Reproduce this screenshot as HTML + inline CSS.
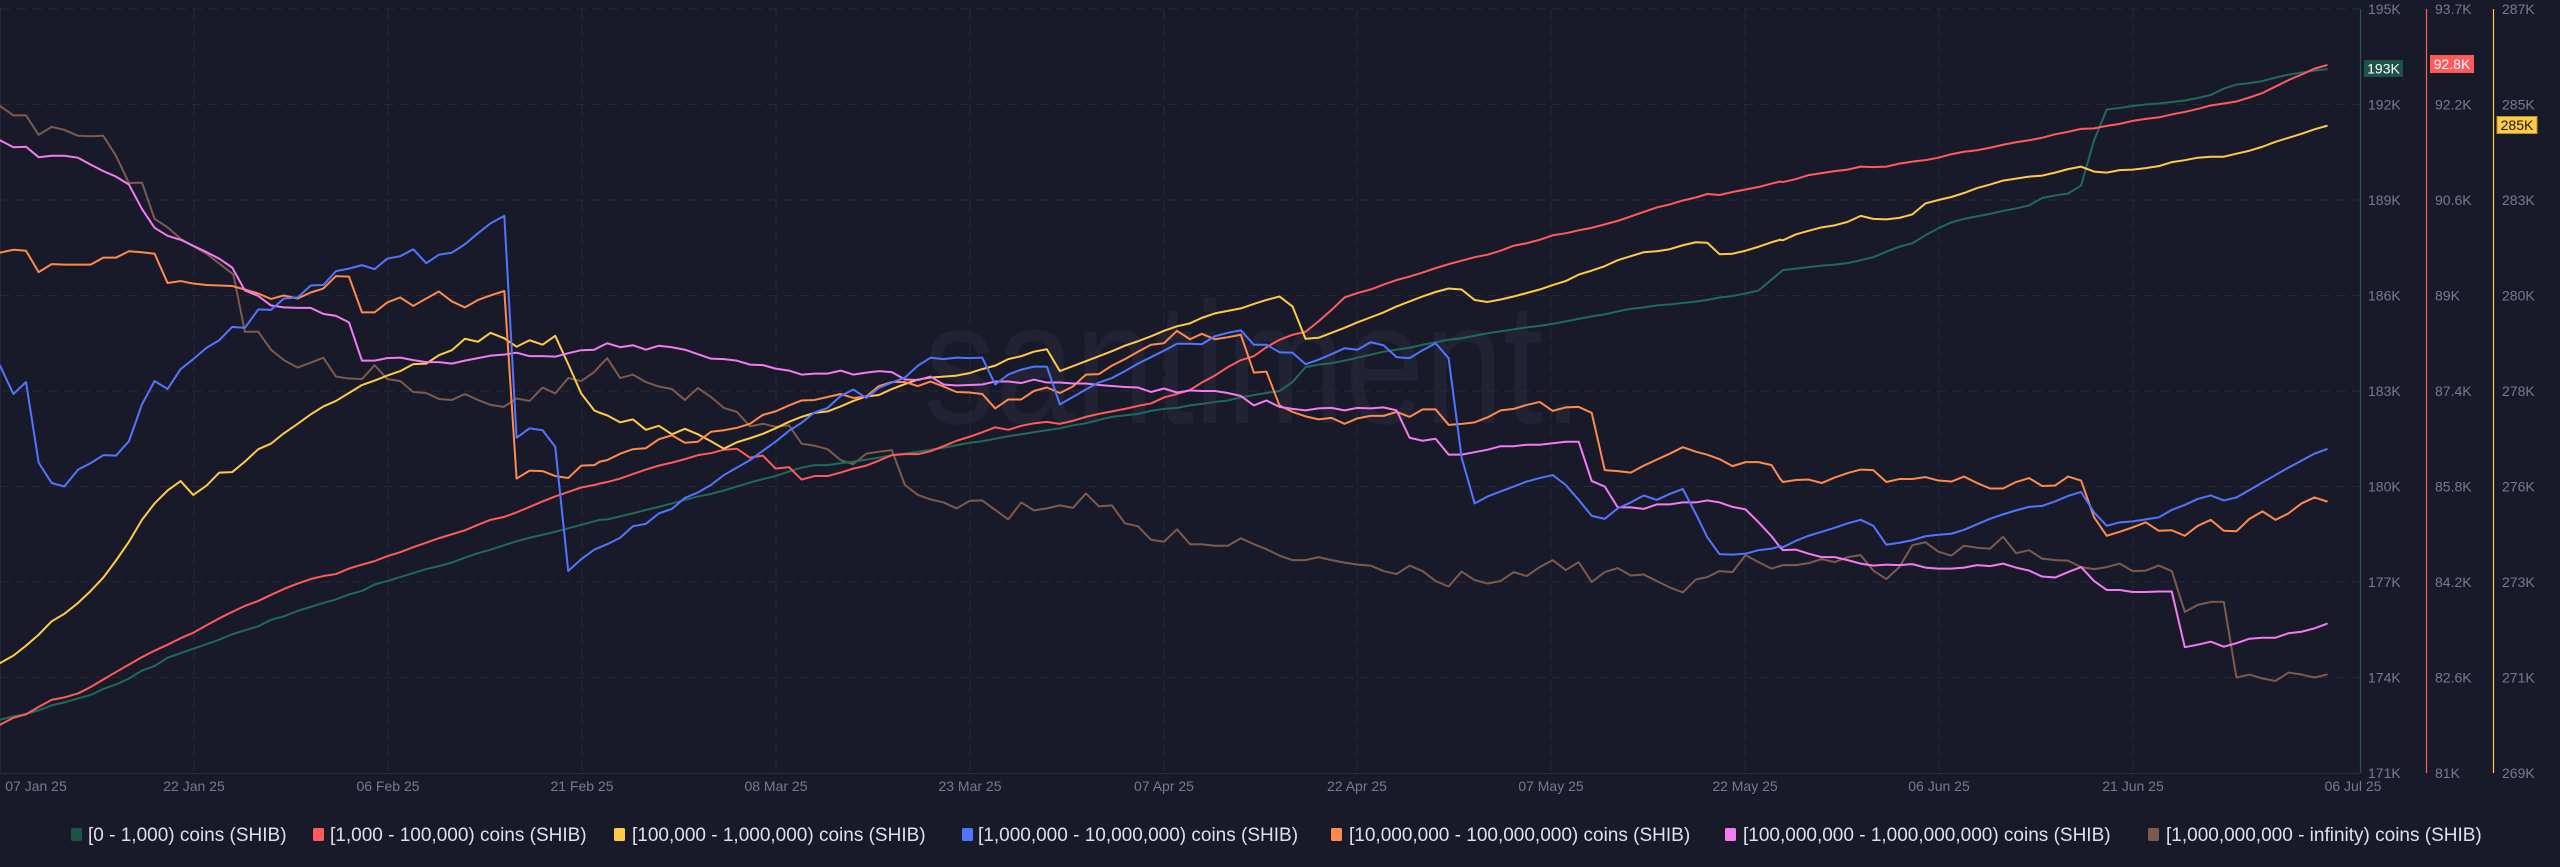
<!DOCTYPE html>
<html><head><meta charset="utf-8"><style>
html,body{margin:0;padding:0;background:#191a29;}
svg{display:block;}
text{font-family:"Liberation Sans",sans-serif;}
</style></head><body>
<svg width="2560" height="867" viewBox="0 0 2560 867" xmlns="http://www.w3.org/2000/svg">
<rect x="0" y="0" width="2560" height="867" fill="#191a29"/>
<!-- watermark -->
<text x="924" y="423" font-size="173" fill="#212335" textLength="659" lengthAdjust="spacingAndGlyphs">santiment.</text>
<!-- grid -->
<g stroke="#262839" stroke-width="1" stroke-dasharray="10 6" fill="none">
<line x1="0" y1="9" x2="2360" y2="9"/>
<line x1="0" y1="104.5" x2="2360" y2="104.5"/>
<line x1="0" y1="200" x2="2360" y2="200"/>
<line x1="0" y1="295.5" x2="2360" y2="295.5"/>
<line x1="0" y1="391" x2="2360" y2="391"/>
<line x1="0" y1="486.5" x2="2360" y2="486.5"/>
<line x1="0" y1="582" x2="2360" y2="582"/>
<line x1="0" y1="677.5" x2="2360" y2="677.5"/>
<line x1="194" y1="9" x2="194" y2="773"/>
<line x1="388" y1="9" x2="388" y2="773"/>
<line x1="582" y1="9" x2="582" y2="773"/>
<line x1="776" y1="9" x2="776" y2="773"/>
<line x1="970" y1="9" x2="970" y2="773"/>
<line x1="1164" y1="9" x2="1164" y2="773"/>
<line x1="1357" y1="9" x2="1357" y2="773"/>
<line x1="1551" y1="9" x2="1551" y2="773"/>
<line x1="1745" y1="9" x2="1745" y2="773"/>
<line x1="1939" y1="9" x2="1939" y2="773"/>
<line x1="2133" y1="9" x2="2133" y2="773"/>
</g>
<line x1="0" y1="773.5" x2="2360" y2="773.5" stroke="#282a3c" stroke-width="1"/>
<line x1="0.5" y1="9" x2="0.5" y2="773" stroke="#262839" stroke-width="1"/>

<!-- series -->
<g fill="none" stroke-width="2" stroke-linejoin="round" stroke-linecap="round">
<!-- group A -->
<g transform="translate(0,0) scale(0.38265,0.49745)">
<polyline vector-effect="non-scaling-stroke" stroke="#7c5a4c" points="0,213 35,232 68,232 101,271 135,255 168,261 204,273 237,274 270,273 303,313 337,368 371,367 404,440 438,457 472,480 505,495 540,510 610,552 640,667 675,667 708,703 742,724 778,739 812,729 845,719 878,757 912,761 946,762 979,734 1012,762 1046,766 1080,788 1114,790 1147,802 1181,804 1215,792 1249,804 1282,814 1316,818 1350,801 1384,806 1418,779 1451,791 1485,760 1519,766 1553,748 1568,735"/>
<polyline vector-effect="non-scaling-stroke" stroke="#1f6a58" points="0,1447 35,1440 68,1435 101,1428 135,1418 168,1412 204,1404 237,1397 270,1385 303,1376 337,1364 371,1348 404,1339 438,1322 472,1313 505,1304 540,1295 573,1286 607,1275 640,1267 675,1259 708,1246 742,1239 778,1228 812,1220 845,1212 878,1205 912,1195 946,1188 979,1175 1012,1168 1046,1160 1080,1152 1114,1144 1147,1138 1181,1131 1215,1121 1249,1112 1282,1105 1318,1096 1350,1088 1384,1081 1418,1075 1451,1069 1485,1062 1519,1055 1553,1048 1568,1045"/>
<polyline vector-effect="non-scaling-stroke" stroke="#ff5b5b" points="0,1457 35,1443 68,1436 101,1421 135,1407 168,1402 204,1394 237,1381 270,1366 303,1351 337,1336 371,1321 404,1308 438,1296 472,1283 505,1272 540,1257 573,1243 607,1230 640,1218 675,1208 708,1196 742,1184 778,1173 812,1164 845,1158 878,1154 912,1143 946,1135 979,1128 1012,1118 1046,1110 1080,1100 1114,1091 1147,1082 1181,1074 1215,1066 1249,1055 1282,1045 1318,1039 1350,1030 1384,1019 1418,1008 1451,998 1485,989 1519,980 1553,975 1568,972"/>
<polyline vector-effect="non-scaling-stroke" stroke="#ffcb47" points="0,1333 35,1318 68,1298 101,1276 135,1249 168,1234 204,1212 237,1188 270,1161 303,1127 337,1089 371,1045 404,1012 438,986 472,967 505,995 540,976 573,950 607,949 640,928 675,903 708,892 742,871 778,852 812,833 845,817 878,806 912,790 946,774 979,765 1012,755 1046,746 1080,732 1114,731 1147,714 1181,704 1215,681 1249,687 1282,669 1318,680 1350,697 1384,684 1418,693 1451,675 1485,732 1519,791 1553,825 1568,830"/>
<polyline vector-effect="non-scaling-stroke" stroke="#ff8a4c" points="0,508 35,502 68,504 101,547 135,531 168,532 204,532 237,532 270,518 303,518 337,505 371,507 404,510 438,569 472,565 505,570 540,573 573,574 607,575 640,582 675,590 708,601 742,594 778,600 812,588 845,580 878,555 912,556 946,628 979,628 1012,608 1046,598 1080,615 1114,600 1147,586 1181,606 1215,618 1249,603 1282,594 1318,585 1350,962 1384,946 1418,947 1451,957 1485,961 1519,936 1553,935 1568,928"/>
<polyline vector-effect="non-scaling-stroke" stroke="#f47bf2" points="0,282 35,296 68,295 101,316 135,313 168,313 204,317 237,331 270,344 303,355 337,371 371,420 404,458 438,474 472,482 505,494 540,507 573,520 607,538 640,584 675,595 708,614 742,618 778,619 812,619 845,631 878,635 912,648 946,725 979,725 1012,720 1046,719 1080,724 1114,728 1147,728 1181,731 1215,725 1249,720 1282,715 1316,713 1350,709 1384,716 1418,716 1451,717 1485,710 1519,704 1553,703 1568,697"/>
<polyline vector-effect="non-scaling-stroke" stroke="#5275ff" points="0,735 35,792 68,768 101,930 135,971 168,978 204,944 237,931 270,915 303,916 337,887 371,813 404,766 438,782 472,742 505,722 540,699 573,684 607,657 640,659 675,622 708,623 742,600 778,598 812,574 845,573 878,545 912,540 946,533 979,541 1012,520 1046,515 1080,501 1114,529 1147,512 1181,508 1215,491 1249,469 1282,449 1318,434 1350,880 1384,861 1418,865 1451,898 1485,1148 1519,1124 1553,1105 1568,1100"/>
</g>
<!-- group B -->
<g transform="translate(590,0) scale(0.38265,0.49745)">
<polyline vector-effect="non-scaling-stroke" stroke="#7c5a4c" points="26,735 45,720 79,760 112,753 146,768 180,777 214,782 248,804 282,780 316,798 350,820 384,828 418,857 452,852 485,858 520,855 553,892 587,896 621,903 655,925 688,933 722,912 755,908 789,905 823,975 857,995 890,1004 924,1010 958,1022 992,1007 1025,1006 1059,1025 1093,1044 1127,1010 1160,1026 1194,1022 1228,1016 1262,1021 1296,992 1330,1018 1364,1016 1398,1052 1432,1058 1466,1085 1500,1089 1534,1064 1568,1094"/>
<polyline vector-effect="non-scaling-stroke" stroke="#1f6a58" points="26,1045 45,1044 79,1038 112,1032 146,1025 180,1019 214,1012 248,1005 282,998 316,993 350,986 384,978 418,970 452,963 485,957 520,948 553,940 587,935 621,935 655,931 688,928 722,924 755,920 789,915 823,912 857,908 890,904 924,900 958,895 992,890 1025,887 1059,882 1093,877 1127,873 1160,869 1194,865 1228,861 1262,855 1296,851 1330,844 1364,838 1398,835 1432,832 1466,826 1500,822 1534,820 1568,815"/>
<polyline vector-effect="non-scaling-stroke" stroke="#ff5b5b" points="26,972 45,969 79,962 112,953 146,944 180,936 214,930 248,923 282,915 316,911 350,904 384,902 418,920 452,916 485,942 520,939 553,964 587,957 621,957 655,950 688,942 722,936 755,926 789,915 823,913 857,913 890,907 924,897 958,886 992,878 1025,869 1059,859 1093,864 1127,856 1160,851 1194,848 1228,852 1262,846 1296,838 1330,832 1364,827 1398,822 1432,816 1466,811 1500,799 1534,792 1568,784"/>
<polyline vector-effect="non-scaling-stroke" stroke="#ffcb47" points="26,830 45,835 79,849 112,843 146,864 180,856 214,873 248,862 282,873 316,887 350,902 384,889 418,881 452,872 485,861 520,848 553,838 587,830 621,827 655,817 688,806 722,797 755,794 789,782 823,772 857,763 890,759 924,757 958,755 992,750 1025,742 1059,735 1093,722 1127,716 1160,707 1194,702 1228,746 1262,736 1296,726 1330,716 1364,706 1398,695 1432,686 1466,676 1500,665 1534,656 1568,650"/>
<polyline vector-effect="non-scaling-stroke" stroke="#ff8a4c" points="26,928 45,925 79,912 112,903 146,901 180,883 214,875 248,890 282,888 316,868 350,865 384,860 418,852 452,834 485,827 520,815 553,805 587,804 621,798 655,792 688,800 722,797 755,776 789,768 823,768 857,776 890,767 924,777 958,788 992,789 1025,792 1059,821 1093,803 1127,803 1160,786 1194,779 1228,790 1262,777 1296,753 1330,752 1364,735 1398,722 1432,707 1466,693 1500,690 1534,665 1568,682"/>
<polyline vector-effect="non-scaling-stroke" stroke="#f47bf2" points="26,697 45,690 79,698 112,694 146,703 180,695 214,698 248,703 282,712 316,721 350,722 384,725 418,733 452,734 485,741 520,745 553,753 587,751 621,751 655,745 688,753 722,749 755,746 789,748 823,763 857,764 890,757 924,773 958,775 992,774 1025,773 1059,767 1093,767 1127,770 1160,763 1194,769 1228,769 1262,771 1296,771 1330,774 1364,776 1398,778 1432,779 1466,788 1500,781 1534,789 1568,785"/>
<polyline vector-effect="non-scaling-stroke" stroke="#5275ff" points="26,1100 45,1094 79,1081 112,1058 146,1053 180,1032 214,1023 248,1001 282,990 316,975 350,955 384,940 418,925 452,906 485,888 520,866 553,850 587,829 621,820 655,796 688,783 722,800 755,780 789,769 823,759 857,735 890,719 924,722 958,719 992,720 1025,719 1059,773 1093,753 1127,743 1160,737 1194,737 1228,813 1262,798 1296,783 1330,769 1364,760 1398,746 1432,731 1466,718 1500,705 1534,691 1568,691"/>
</g>
<!-- group C -->
<g transform="translate(1180,0) scale(0.38265,0.49745)">
<polyline vector-effect="non-scaling-stroke" stroke="#7c5a4c" points="26,1094 57,1094 91,1097 125,1097 159,1082 193,1094 226,1104 260,1117 294,1126 328,1126 362,1120 396,1126 430,1131 464,1135 498,1137 532,1148 566,1154 600,1137 634,1148 668,1168 702,1179 736,1149 770,1166 804,1173 838,1168 872,1150 906,1158 940,1140 974,1126 1008,1146 1042,1130 1076,1170 1110,1150 1144,1142 1178,1157 1212,1155 1246,1168 1280,1181 1314,1191 1348,1165 1378,1160 1410,1148 1444,1150 1478,1116 1512,1130 1546,1143 1568,1138"/>
<polyline vector-effect="non-scaling-stroke" stroke="#1f6a58" points="26,815 57,812 91,808 125,805 159,799 193,794 226,790 260,786 294,768 328,738 362,733 396,730 430,725 464,719 498,713 532,707 566,703 600,699 634,693 668,688 702,683 736,680 770,675 804,670 838,666 872,662 906,658 940,655 974,651 1008,646 1042,641 1076,636 1110,632 1144,626 1178,621 1212,618 1246,614 1280,612 1314,609 1348,606 1378,603 1410,598 1444,595 1478,590 1512,584 1546,562 1568,548"/>
<polyline vector-effect="non-scaling-stroke" stroke="#ff5b5b" points="26,784 57,769 91,755 125,738 159,724 193,716 226,698 260,683 294,673 328,667 362,646 396,623 430,598 464,589 498,582 532,572 566,563 600,556 634,548 668,539 702,531 736,524 770,517 804,512 838,504 872,494 906,489 940,482 974,473 1008,469 1042,463 1076,458 1110,451 1144,444 1178,435 1212,426 1246,417 1280,411 1314,403 1348,397 1378,390 1410,392 1444,386 1478,381 1512,376 1546,369 1568,365"/>
<polyline vector-effect="non-scaling-stroke" stroke="#ffcb47" points="26,650 57,639 91,630 125,625 159,620 193,611 226,603 260,596 294,616 328,681 362,679 396,669 430,659 464,648 498,638 532,628 566,616 600,606 634,596 668,587 702,580 736,582 770,603 804,607 838,602 872,596 906,589 940,582 974,573 1008,565 1042,552 1076,544 1110,535 1144,523 1178,515 1212,507 1246,505 1280,501 1314,493 1348,487 1378,488 1410,511 1444,510 1478,504 1512,496 1546,487 1568,482"/>
<polyline vector-effect="non-scaling-stroke" stroke="#ff8a4c" points="26,682 57,671 91,682 125,678 159,673 193,749 226,747 260,815 294,828 328,837 362,843 396,840 430,852 464,841 498,836 532,836 566,828 600,838 634,823 668,823 702,854 736,852 770,849 804,839 838,825 872,822 906,814 940,808 974,826 1008,819 1042,818 1076,830 1110,945 1144,947 1178,950 1212,936 1246,924 1280,912 1314,899 1348,908 1378,914 1410,923 1444,937 1478,929 1512,929 1546,935 1568,962"/>
<polyline vector-effect="non-scaling-stroke" stroke="#f47bf2" points="26,785 57,786 91,786 125,790 159,796 193,815 226,805 260,818 294,822 328,825 362,821 396,820 430,825 464,820 498,821 532,819 566,825 600,880 634,886 668,882 702,914 736,914 770,909 804,904 838,897 872,897 906,894 940,894 974,891 1008,888 1042,888 1076,967 1110,978 1144,1020 1178,1020 1212,1023 1246,1014 1280,1014 1314,1010 1348,1010 1378,1006 1410,1010 1444,1019 1478,1024 1512,1050 1546,1078 1568,1100"/>
<polyline vector-effect="non-scaling-stroke" stroke="#5275ff" points="26,691 57,692 91,676 125,669 159,664 193,693 226,693 260,708 294,709 328,732 362,723 396,712 430,700 464,703 498,688 532,694 566,718 600,720 634,704 668,690 702,720 736,920 770,1012 804,998 838,988 872,978 906,968 940,961 974,955 1008,975 1042,1005 1076,1037 1110,1043 1144,1022 1178,1010 1212,996 1246,1005 1280,993 1314,983 1348,1033 1378,1080 1410,1114 1444,1115 1478,1113 1512,1106 1546,1103 1568,1098"/>
</g>
<!-- group D -->
<g transform="translate(1770,0) scale(0.38265,0.49745)">
<polyline vector-effect="non-scaling-stroke" stroke="#7c5a4c" points="26,1138 34,1136 68,1136 101,1132 135,1124 169,1130 203,1120 237,1116 270,1147 304,1164 338,1140 372,1096 406,1090 440,1109 474,1117 507,1097 541,1101 575,1103 609,1079 643,1112 677,1106 711,1123 745,1126 779,1127 813,1140 847,1144 880,1140 914,1133 948,1148 982,1147 1016,1137 1050,1148 1084,1230 1118,1216 1152,1210 1186,1210 1219,1362 1253,1356 1287,1364 1321,1369 1355,1352 1389,1356 1423,1362 1455,1356"/>
<polyline vector-effect="non-scaling-stroke" stroke="#1f6a58" points="26,548 34,543 68,540 101,537 135,534 169,532 203,529 237,523 270,517 304,506 338,496 372,489 406,473 440,459 474,447 507,440 541,435 575,430 609,424 643,419 677,413 711,398 745,393 779,389 813,373 847,282 880,220 914,217 948,213 982,210 1016,208 1050,205 1084,202 1118,197 1152,191 1186,178 1219,170 1253,167 1287,163 1321,156 1355,150 1389,146 1423,142 1455,139"/>
<polyline vector-effect="non-scaling-stroke" stroke="#ff5b5b" points="26,365 34,366 68,360 101,352 135,348 169,344 203,341 237,335 270,336 304,335 338,329 372,325 406,322 440,317 474,310 507,305 541,302 575,297 609,291 643,286 677,282 711,277 745,270 779,265 813,259 847,258 880,253 914,249 948,243 982,239 1016,236 1050,230 1084,225 1118,219 1152,212 1186,208 1219,204 1253,196 1287,187 1321,174 1355,161 1389,150 1423,138 1455,131"/>
<polyline vector-effect="non-scaling-stroke" stroke="#ffcb47" points="26,482 34,483 68,471 101,464 135,457 169,453 203,446 237,434 270,440 304,441 338,438 372,431 406,409 440,402 474,396 507,388 541,378 575,371 609,363 643,359 677,355 711,353 745,347 779,340 813,335 847,345 880,347 914,342 948,341 982,338 1016,334 1050,326 1084,322 1118,317 1152,315 1186,315 1219,309 1253,303 1287,295 1321,285 1355,277 1389,269 1423,260 1455,253"/>
<polyline vector-effect="non-scaling-stroke" stroke="#ff8a4c" points="26,962 34,969 68,965 101,964 135,971 169,960 203,951 237,944 270,945 304,969 338,963 372,963 406,959 440,966 474,968 507,958 541,971 575,982 609,982 643,969 677,961 711,977 745,976 779,958 813,966 847,1040 880,1077 914,1069 948,1060 982,1050 1016,1067 1050,1066 1084,1077 1118,1057 1152,1045 1186,1067 1219,1068 1253,1043 1287,1028 1321,1045 1355,1032 1389,1012 1423,1000 1455,1008"/>
<polyline vector-effect="non-scaling-stroke" stroke="#f47bf2" points="26,1100 34,1106 68,1105 101,1113 135,1120 169,1120 203,1126 237,1133 270,1137 304,1135 338,1136 372,1134 406,1141 440,1143 474,1143 507,1141 541,1136 575,1138 609,1133 643,1141 677,1147 711,1159 745,1161 779,1150 813,1140 847,1168 880,1186 914,1186 948,1190 982,1190 1016,1189 1050,1189 1084,1301 1118,1296 1152,1290 1186,1300 1219,1293 1253,1284 1287,1282 1321,1282 1355,1273 1389,1270 1423,1263 1455,1254"/>
<polyline vector-effect="non-scaling-stroke" stroke="#5275ff" points="26,1098 34,1100 68,1087 101,1077 135,1069 169,1061 203,1052 237,1045 270,1057 304,1095 338,1091 372,1086 406,1078 440,1075 474,1073 507,1065 541,1054 575,1043 609,1034 643,1026 677,1019 711,1017 745,1008 779,997 813,989 847,1030 880,1057 914,1050 948,1048 982,1044 1016,1040 1050,1025 1084,1015 1118,1003 1152,996 1186,1006 1219,1000 1253,985 1287,970 1321,955 1355,940 1389,926 1423,912 1455,903"/>
</g>
</g>

<!-- axes -->
<line x1="2360.5" y1="9" x2="2360.5" y2="773" stroke="#1f5a4c" stroke-width="1.2"/>
<line x1="2426.5" y1="9" x2="2426.5" y2="773" stroke="#ff5b5b" stroke-width="1.2"/>
<line x1="2493.5" y1="9" x2="2493.5" y2="773" stroke="#ffcb47" stroke-width="1.2"/>

<g font-size="14" fill="#767a92">
<text x="2368" y="14">195K</text>
<text x="2368" y="109.5">192K</text>
<text x="2368" y="205">189K</text>
<text x="2368" y="300.5">186K</text>
<text x="2368" y="396">183K</text>
<text x="2368" y="491.5">180K</text>
<text x="2368" y="587">177K</text>
<text x="2368" y="682.5">174K</text>
<text x="2368" y="778">171K</text>
<text x="2435" y="14">93.7K</text>
<text x="2435" y="109.5">92.2K</text>
<text x="2435" y="205">90.6K</text>
<text x="2435" y="300.5">89K</text>
<text x="2435" y="396">87.4K</text>
<text x="2435" y="491.5">85.8K</text>
<text x="2435" y="587">84.2K</text>
<text x="2435" y="682.5">82.6K</text>
<text x="2435" y="778">81K</text>
<text x="2502" y="14">287K</text>
<text x="2502" y="109.5">285K</text>
<text x="2502" y="205">283K</text>
<text x="2502" y="300.5">280K</text>
<text x="2502" y="396">278K</text>
<text x="2502" y="491.5">276K</text>
<text x="2502" y="587">273K</text>
<text x="2502" y="682.5">271K</text>
<text x="2502" y="778">269K</text>
</g>

<!-- badges -->
<rect x="2364" y="60" width="39" height="17" fill="#1b5446"/>
<text x="2383.5" y="73.5" font-size="14" fill="#ffffff" text-anchor="middle">193K</text>
<rect x="2430" y="55" width="44" height="18" fill="#ff5b5b"/>
<text x="2452" y="69" font-size="14" fill="#ffffff" text-anchor="middle">92.8K</text>
<rect x="2497" y="116.5" width="40" height="17" fill="#ffcb47" stroke="#b8922f" stroke-width="1"/>
<text x="2517" y="130" font-size="14" fill="#1a1a1a" text-anchor="middle">285K</text>

<!-- x labels -->
<g font-size="14" fill="#767a92" text-anchor="middle">
<text x="36" y="791">07 Jan 25</text>
<text x="194" y="791">22 Jan 25</text>
<text x="388" y="791">06 Feb 25</text>
<text x="582" y="791">21 Feb 25</text>
<text x="776" y="791">08 Mar 25</text>
<text x="970" y="791">23 Mar 25</text>
<text x="1164" y="791">07 Apr 25</text>
<text x="1357" y="791">22 Apr 25</text>
<text x="1551" y="791">07 May 25</text>
<text x="1745" y="791">22 May 25</text>
<text x="1939" y="791">06 Jun 25</text>
<text x="2133" y="791">21 Jun 25</text>
<text x="2353" y="791">06 Jul 25</text>
</g>

<!-- legend -->
<g font-size="19" fill="#dfe0ea">
<rect x="71" y="828" width="11" height="13" rx="1.5" fill="#1b5446"/>
<text x="88" y="841">[0 - 1,000) coins (SHIB)</text>
<rect x="313" y="828" width="11" height="13" rx="1.5" fill="#ff5b5b"/>
<text x="330" y="841">[1,000 - 100,000) coins (SHIB)</text>
<rect x="614" y="828" width="11" height="13" rx="1.5" fill="#ffcb47"/>
<text x="632" y="841">[100,000  - 1,000,000) coins (SHIB)</text>
<rect x="962" y="828" width="11" height="13" rx="1.5" fill="#5275ff"/>
<text x="978" y="841">[1,000,000 - 10,000,000) coins (SHIB)</text>
<rect x="1331" y="828" width="11" height="13" rx="1.5" fill="#ff8a4c"/>
<text x="1349" y="841">[10,000,000 - 100,000,000) coins (SHIB)</text>
<rect x="1725" y="828" width="11" height="13" rx="1.5" fill="#f47bf2"/>
<text x="1743" y="841">[100,000,000 - 1,000,000,000) coins (SHIB)</text>
<rect x="2148" y="828" width="11" height="13" rx="1.5" fill="#7c5a4c"/>
<text x="2166" y="841">[1,000,000,000 - infinity) coins (SHIB)</text>
</g>
</svg>
</body></html>
